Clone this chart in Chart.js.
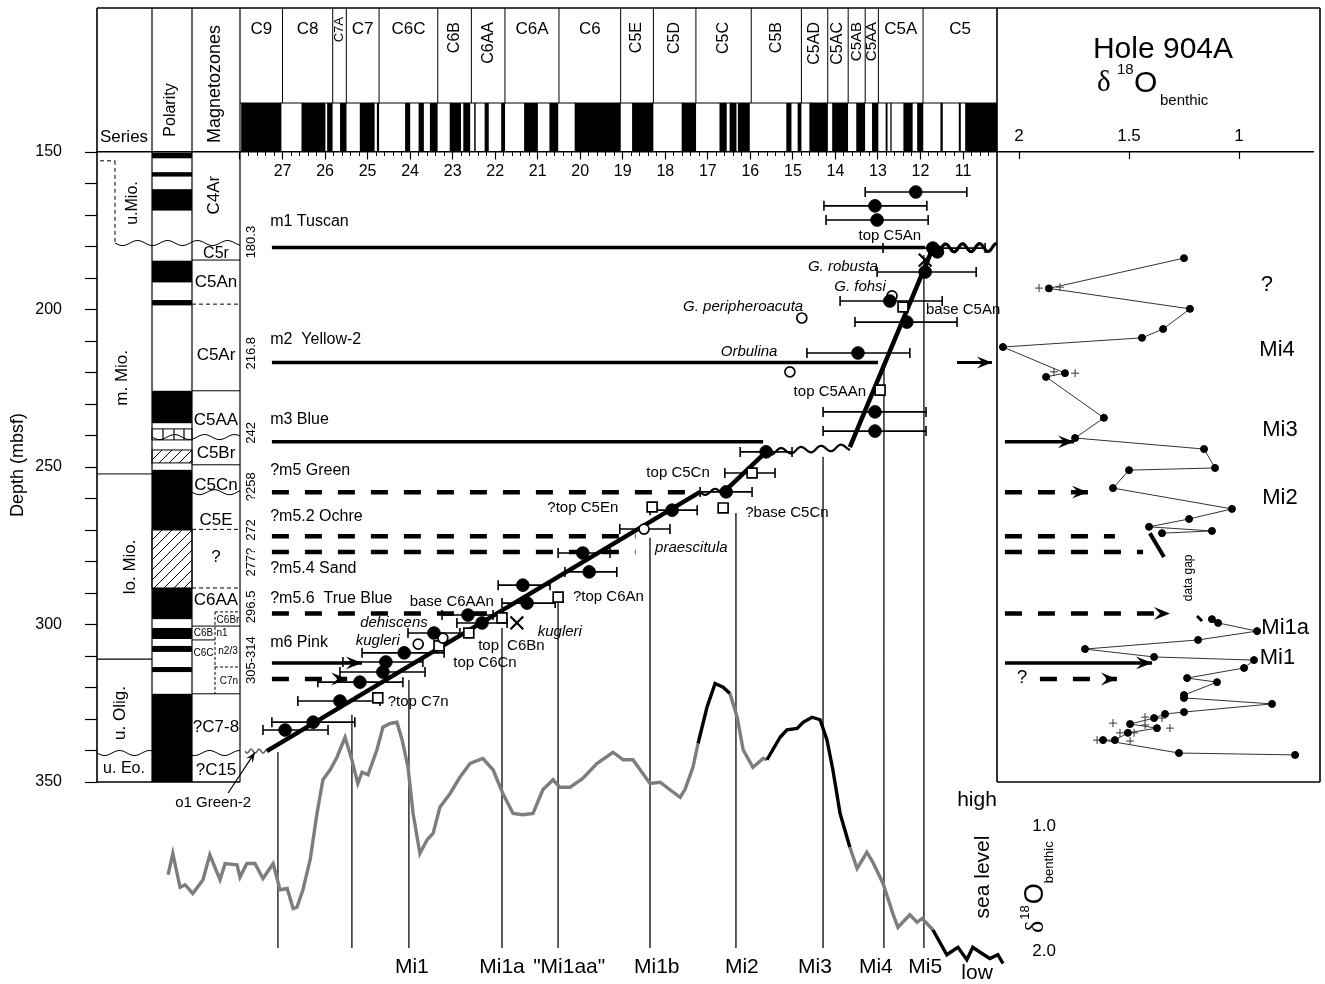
<!DOCTYPE html>
<html>
<head>
<meta charset="utf-8">
<title>Hole 904A age-depth</title>
<script src="https://cdn.jsdelivr.net/npm/chart.js@4.4.1/dist/chart.umd.min.js"></script>
<style>
html,body{margin:0;padding:0;background:#fff;}
#wrap{position:relative;width:1325px;height:984px;}
canvas{display:block;}
</style>
</head>
<body>
<div id="wrap"><canvas id="chart" width="1325" height="984"></canvas></div>
<script>
const FF = '"Liberation Sans", Arial, Helvetica, sans-serif';

// ======================= DATA =======================
// Axis tick values
const ageTicks   = [28,27,26,25,24,23,22,21,20,19,18,17,16,15,14,13,12,11];
const depthTicks = [150,160,170,180,190,200,210,220,230,240,250,260,270,280,290,300,310,320,330,340,350];
const panelTicks = [2,1.5,1];
const seaTicks   = [1,2];

// Geomagnetic polarity timescale (header): chron cells, ages in Ma
const chronNames = ['C9','C8','C7A','C7','C6C','C6B','C6AA','C6A','C6','C5E','C5D','C5C','C5B','C5AD','C5AC','C5AB','C5AA','C5A','C5'];
const chronOld   = [28.00,27.00,25.82,25.50,24.73,23.35,22.56,21.77,20.50,19.05,18.28,17.28,15.98,14.80,14.18,13.70,13.30,12.99,11.94];
const chronYoung = [27.00,25.82,25.50,24.73,23.35,22.56,21.77,20.50,19.05,18.28,17.28,15.98,14.80,14.18,13.70,13.30,12.99,11.94,10.20];
// normal-polarity intervals of the timescale (Ma)
const gptsOld   = [27.972,26.554,25.951,25.648,25.183,24.781,24.118,23.800,23.535,23.069,22.750,22.493,22.248,21.859,21.320,20.725,20.131,18.781,17.615,16.726,16.488,16.293,15.155,14.888,14.612,14.076,13.510,13.139,12.819,12.708,12.401,12.078,11.531,11.099,10.949];
const gptsYoung = [27.027,25.992,25.823,25.496,24.835,24.730,23.999,23.677,23.353,22.804,22.588,22.459,22.151,21.768,20.996,20.518,19.048,18.281,17.277,16.556,16.327,16.014,15.034,14.800,14.178,13.703,13.302,12.991,12.775,12.678,12.184,11.935,11.476,11.052,10.200];

// Hole polarity log: black (normal) intervals, depth mbsf
const polTop = [150.2,156.4,161.8,184.5,197.0,225.8,250.9,288.4,301.1,306.8,313.5,322.0];
const polBot = [152.0,157.8,168.6,191.4,198.7,236.1,270.0,298.3,304.6,308.7,315.1,350.0];

// Age control points (age Ma, depth mbsf, age uncertainty old/young)
const dotAge      = [12.11,13.07,13.02,11.71,11.60,11.89,12.72,12.32,13.47,13.07,13.07,15.63,16.57,17.84,19.94,19.79,21.35,21.25,22.64,22.31,23.44,24.14,24.57,24.64,25.18,25.65,26.28,26.94];
const dotDepth    = [162.7,167.1,171.6,180.5,181.7,188.1,197.3,204.0,213.8,232.5,238.6,245.2,257.9,263.7,277.3,283.3,287.5,293.2,297.0,299.5,302.7,309.0,311.9,315.1,318.3,324.3,331.0,333.5];
const dotErrOld   = [13.30,14.27,14.22,12.88,null,13.02,13.89,13.54,14.67,14.29,14.29,16.24,17.18,18.36,20.52,20.36,21.93,21.84,23.25,22.90,24.05,25.13,25.58,25.65,26.17,26.64,27.25,27.46];
const dotErrYoung = [10.91,11.85,11.82,10.48,null,10.69,11.49,11.14,12.25,11.87,11.87,15.02,15.96,17.25,19.30,19.14,20.71,20.59,22.05,21.72,22.83,23.20,23.70,23.65,24.17,24.71,25.30,25.93];

const openAge      = [12.67,14.79,15.07,18.50,23.81,23.23];
const openDepth    = [195.7,202.7,219.8,269.7,306.2,304.3];
const openErrOld   = [null,null,null,19.07,null,null];
const openErrYoung = [null,null,null,17.89,null,null];

const sqAge      = [12.41,12.95,15.96,16.64,18.31,20.52,21.84,22.62,23.32,24.76];
const sqDepth    = [199.2,225.6,251.9,263.0,262.7,291.3,297.9,302.7,306.8,323.3];
const sqErrOld   = [null,null,16.60,null,null,null,null,null,null,null];
const sqErrYoung = [null,null,15.42,null,null,null,null,null,null,null];

const xAge   = [11.89,21.49];
const xDepth = [184.3,299.5];

// Age model (line / unconformity segments)
const modelAge   = [27.37,17.18,16.62,15.63,13.66,11.71,10.20];
const modelDepth = [340.2,257.9,257.9,245.2,243.7,180.5,180.3];
const modelSeg   = ['line','wavy','line','wavy','line','wavy'];

// Sequence boundaries
const seqName   = ['m1 Tuscan','m2  Yellow-2','m3 Blue','?m5 Green','?m5.2 Ochre','?m5.4 Sand','?m5.6  True Blue','m6 Pink'];
const seqDepth  = [180.3,216.8,242,258,272,277,296.5,312.2];
const seqAgeEnd = [11.89,13.00,15.70,17.18,18.70,18.70,22.05,25.13];
const seqDashed = [false,false,false,true,true,true,true,false];
const seqDepthText = ['180.3','216.8','242','?258','272','277?','296.5','305-314'];

// Hole 904A benthic d18O (per mil) vs depth
const isoDepth = [183.7,193.3,199.8,206.2,209.0,211.9,220.2,221.4,234.4,240.8,244.3,250.3,251.0,256.7,263.3,266.5,269.0,270.3,271.0,null,298.3,299.5,302.1,304.9,307.8,310.3,311.3,313.8,317.0,318.3,322.4,323.3,325.2,327.8,328.4,329.7,331.6,332.9,334.4,336.7,336.7,340.8,341.4];
const isoValue = [1.25,1.864,1.223,1.345,1.441,2.073,1.791,1.877,1.614,1.745,1.159,1.109,1.5,1.573,1.032,1.227,1.409,1.123,1.35,null,1.123,1.095,0.918,1.186,1.7,1.386,0.932,0.977,1.236,1.1,1.25,1.25,0.85,1.25,1.336,1.386,1.495,1.373,1.505,1.564,1.618,1.273,0.745];
const plusDepth = [193.2,192.9,219.8,220.2,329.4,329.7,331.3,331.9,332.9,334.4,334.4,336.7,337.0];
const plusValue = [1.909,1.814,1.841,1.745,1.427,1.35,1.573,1.427,1.314,1.541,1.477,1.645,1.495];

// Sea level proxy: composite benthic d18O vs age
const seaAge = [29.69,29.58,29.41,29.29,29.11,28.87,28.71,28.47,28.35,28.07,28.00,27.84,27.65,27.46,27.22,27.06,26.89,26.75,26.66,26.52,26.35,26.19,26.05,25.88,25.72,25.53,25.37,25.23,25.13,24.99,24.78,24.64,24.47,24.31,24.19,24.05,23.93,23.77,23.60,23.46,23.30,23.06,22.83,22.59,22.29,22.05,21.82,21.58,21.35,21.11,20.88,20.64,20.48,20.24,19.94,19.61,19.23,18.99,18.76,18.36,18.12,17.89,17.65,17.54,17.35,17.23,17.02,16.83,16.64,16.48,16.31,16.17,15.94,15.70,15.61,15.30,15.14,14.90,14.76,14.55,14.36,14.20,14.06,13.89,13.66,13.49,13.26,13.12,12.88,12.65,12.53,12.25,12.08,11.96,11.71,11.38,11.12,10.91,10.77,10.60,10.37,10.18,10.06];
const seaD18 = [1.39,1.22,1.49,1.47,1.54,1.43,1.23,1.43,1.30,1.31,1.41,1.30,1.30,1.42,1.30,1.51,1.50,1.66,1.65,1.51,1.27,0.90,0.63,0.55,0.45,0.29,0.47,0.66,0.57,0.59,0.39,0.21,0.18,0.17,0.31,0.53,0.90,1.22,1.11,1.06,0.85,0.74,0.61,0.50,0.46,0.55,0.74,0.90,0.91,0.90,0.71,0.63,0.69,0.69,0.62,0.50,0.41,0.47,0.47,0.66,0.65,0.71,0.77,0.71,0.53,0.34,0.05,-0.14,-0.11,-0.06,0.13,0.39,0.53,0.46,0.47,0.29,0.23,0.22,0.17,0.13,0.15,0.31,0.55,0.90,1.17,1.34,1.21,1.29,1.46,1.70,1.81,1.71,1.77,1.74,1.83,2.03,1.97,2.07,1.97,2.01,2.06,2.03,2.10];
const seaBlackOld   = [17.25,15.61,11.80];
const seaBlackYoung = [16.48,13.60,10.00];

// Mi events
const miLineAge = [27.11,25.37,24.03,21.84,20.52,18.36,16.34,14.29,12.86,11.92];
const miLineTop = [340.5,328.7,317.6,301.1,293.2,272.5,264.6,246.8,217.6,182.7];
const miLineBottom = 402.7;
const miName = ['Mi1','Mi1a','"Mi1aa"','Mi1b','Mi2','Mi3','Mi4','Mi5'];
const miLabelAge = [23.96,21.84,20.26,18.20,16.20,14.48,13.05,11.89];

// Sequence boundaries carried into the isotope panel
const panelDepth  = [242,258,272,277,296.5,312.2,317.3];
const panelFrom   = [2.064,2.064,2.064,2.064,2.064,2.064,1.905];
const panelTo     = [1.75,1.686,1.564,1.436,1.314,1.395,1.555];
const panelDashed = [false,true,true,true,true,false,true];
const panelArrow  = [true,true,false,false,true,true,true];

// ======================= HELPERS =======================
const zeroPad = s => {
  s.paddingLeft = 0; s.paddingRight = 0; s.paddingTop = 0; s.paddingBottom = 0;
  s.getPadding = () => ({left: 0, top: 0, right: 0, bottom: 0});
};
const setTicks = vals => s => { s.ticks = vals.map(v => ({value: v})); };
const pts = (xs, ys) => xs.map((x, i) => ({x: x, y: ys[i]}));
function bars(depths, olds, youngs) {
  const out = [];
  depths.forEach((d, i) => {
    if (olds[i] == null) return;
    out.push({x: olds[i], y: d}, {x: youngs[i], y: d}, {x: null, y: null});
  });
  return out;
}
function seg(c, x1, y1, x2, y2, w, dash, color) {
  c.save(); c.strokeStyle = color || '#000'; c.lineWidth = w || 1; c.setLineDash(dash || []);
  c.beginPath(); c.moveTo(x1, y1); c.lineTo(x2, y2); c.stroke(); c.restore();
}
function txt(c, s, x, y, size, o) {
  o = o || {};
  c.save();
  c.font = (o.italic ? 'italic ' : '') + size + 'px ' + (o.family || FF);
  c.fillStyle = o.color || '#000';
  c.textAlign = o.align || 'center';
  c.textBaseline = o.baseline || 'middle';
  c.translate(x, y);
  if (o.rot) c.rotate(-Math.PI / 2);
  c.fillText(s, 0, 0);
  c.restore();
}
function wavy(c, x1, y1, x2, y2, amp, wl, lw, color) {
  const len = Math.hypot(x2 - x1, y2 - y1); if (len < 1) return;
  const ux = (x2 - x1) / len, uy = (y2 - y1) / len, n = Math.round(len);
  c.save(); c.strokeStyle = color || '#000'; c.lineWidth = lw; c.lineJoin = 'round';
  c.beginPath();
  for (let i = 0; i <= n; i++) {
    const t = i / n * len, o = amp * Math.sin(2 * Math.PI * t / wl);
    const px = x1 + ux * t - uy * o, py = y1 + uy * t + ux * o;
    if (i) c.lineTo(px, py); else c.moveTo(px, py);
  }
  c.stroke(); c.restore();
}
function head(c, x1, y1, x2, y2, len, color) {
  const a = Math.atan2(y2 - y1, x2 - x1);
  c.save(); c.translate(x2, y2); c.rotate(a); c.fillStyle = color || '#000';
  c.beginPath(); c.moveTo(0, 0); c.lineTo(-len, -len * 0.4); c.lineTo(-len * 0.62, 0); c.lineTo(-len, len * 0.4); c.closePath(); c.fill();
  c.restore();
}
function hatch(c, x1, y1, x2, y2, sp) {
  c.save(); c.beginPath(); c.rect(x1, y1, x2 - x1, y2 - y1); c.clip();
  c.strokeStyle = '#000'; c.lineWidth = 1; c.beginPath();
  const h = y2 - y1;
  for (let k = -h; k < (x2 - x1) + h; k += sp) { c.moveTo(x1 + k, y2); c.lineTo(x1 + k + h, y1); }
  c.stroke(); c.restore();
  c.save(); c.strokeStyle = '#000'; c.lineWidth = 1; c.strokeRect(x1, y1, x2 - x1, y2 - y1); c.restore();
}

// ======================= FIGURE DECORATION =======================
const chronRot  = [false,false,true,false,false,true,true,false,false,true,true,true,true,true,true,true,true,false,false];
const chronSize = [17,17,13,17,17,16,16,17,17,16,16,16,16,16,16,15,15,17,17];

const notes = [
  ['top C5An', 12.72, 176.7, false, 'center'],
  ['G. robusta', 13.00, 186.5, true, 'right'],
  ['G. fohsi', 13.42, 192.9, true, 'center'],
  ['G. peripheroacuta', 16.17, 199.2, true, 'center'],
  ['base C5An', 11.87, 200.2, false, 'left'],
  ['Orbulina', 16.03, 213.5, true, 'center'],
  ['top C5AAn', 14.13, 226.2, false, 'center'],
  ['top C5Cn', 17.70, 251.9, false, 'center'],
  ['?base C5Cn', 15.14, 264.6, false, 'center'],
  ['?top C5En', 19.94, 263.0, false, 'center'],
  ['praescitula', 18.24, 275.7, true, 'left'],
  ['?top C6An', 20.17, 291.3, false, 'left'],
  ['base C6AAn', 23.02, 292.9, false, 'center'],
  ['dehiscens', 24.38, 299.5, true, 'center'],
  ['kugleri', 20.48, 302.4, true, 'center'],
  ['top', 21.91, 306.8, false, 'right'],
  ['C6Bn', 21.72, 306.8, false, 'left'],
  ['kugleri', 24.76, 305.2, true, 'center'],
  ['top C6Cn', 22.24, 312.2, false, 'center'],
  ['?top C7n', 23.81, 324.6, false, 'center'],
  ['o1 Green-2', 28.63, 356.7, false, 'center']
];
const seqLabelDepth = [172.2,209.4,234.8,251.0,265.9,282.1,291.9,305.9];
const seqLabelPos = [178.6,213.9,239.2,256.3,270.0,280.2,294.4,311.3];

const magLabels = [
  ['C4Ar',214,163.7,17,true],['C5r',216,182.1,16,false],['C5An',216,191.3,17,false],['C5Ar',216,214.4,17,false],
  ['C5AA',216,235.1,17,false],['C5Br',216,245.6,17,false],['C5Cn',216,255.7,17,false],['C5E',216,266.8,17,false],
  ['?',216,278.6,17,false],['C6AA',216,292.2,17,false],['C6Br',228,298.6,10,false],['C6B',203.5,302.9,10,false],
  ['n1',222,302.7,10,false],['C6C',203.5,309.0,10,false],['n2/3',228,308.4,10,false],['C7n',229,318.0,10,false],
  ['?C7-8',216,332.5,17,false],['?C15',216,346.2,17,false]
];
const seriesLabels = [['u.Mio.',133,166.2,16,true],['m. Mio.',122,221.7,17,true],['lo. Mio.',130,281.7,17,true],['u. Olig.',120,328.1,17,true],['u. Eo.',124,345.6,16,false]];

const figurePlugin = {
  id: 'figure',
  beforeDatasetsDraw(ch) {
    const c = ch.ctx, sx = ch.scales.x, sy = ch.scales.y;
    const X = v => sx.getPixelForValue(v), Y = v => sy.getPixelForValue(v);
    const yAx = Y(150), yB = Y(350);
    c.save(); c.fillStyle = '#000';
    for (let i = 0; i < gptsOld.length; i++) { const a = X(gptsOld[i]), b = X(gptsYoung[i]); c.fillRect(a, 103, b - a, yAx - 103); }
    for (let i = 0; i < polTop.length; i++) c.fillRect(152, Y(polTop[i]), 40, Y(polBot[i]) - Y(polTop[i]));
    c.restore();
    hatch(c, 152, Y(270.0), 192, Y(288.4), 10);
    hatch(c, 152, Y(244.6), 192, Y(248.7), 10);
    c.save(); c.strokeStyle = '#000'; c.lineWidth = 1; c.strokeRect(152, Y(237.9), 40, Y(241.4) - Y(237.9));
    [163, 174, 184].forEach(xx => seg(c, xx, Y(237.9), xx, Y(241.4), 1.2)); c.restore();

    for (let i = 1; i < chronOld.length; i++) seg(c, X(chronOld[i]), 8, X(chronOld[i]), 103, 1);
    seg(c, 240, 103, 997, 103, 1.2);
    chronNames.forEach((n, i) => {
      const cx = (X(chronOld[i]) + X(chronYoung[i])) / 2;
      if (chronRot[i]) txt(c, n, cx, n === 'C7A' ? 17 : 22, chronSize[i], {rot: true, align: 'right'});
      else txt(c, n, cx, 29, chronSize[i]);
    });
    txt(c, 'Series', 124, 137, 17);
    txt(c, 'Polarity', 171, 110, 16, {rot: true});
    txt(c, 'Magnetozones', 215, 84, 18, {rot: true});

    seg(c, 97, 8, 1320, 8, 1.6);
    seg(c, 97, 8, 97, yB, 1.6);
    [152, 192, 240].forEach(xx => seg(c, xx, 8, xx, yB, 1.2));
    seg(c, 997, 8, 997, yB, 1.6);
    seg(c, 1320, 8, 1320, yB, 1.6);
    seg(c, 97, yB, 240, yB, 1.6);
    seg(c, 997, yB, 1320, yB, 1.6);

    seg(c, 100, Y(152.8), 115, Y(152.8), 1, [4, 3]);
    seg(c, 115, Y(152.8), 115, Y(178.9), 1, [4, 3]);
    wavy(c, 115, Y(178.9), 240, Y(178.9), 2.5, 30, 1);
    seg(c, 97, Y(252.2), 152, Y(252.2), 1);
    seg(c, 97, Y(311), 152, Y(311), 1.2);
    wavy(c, 97, Y(340.8), 240, Y(340.8), 2.5, 30, 1);
    seg(c, 192, Y(184.3), 240, Y(184.3), 1);
    seg(c, 192, Y(198.3), 240, Y(198.3), 1, [4, 3]);
    seg(c, 192, Y(225.8), 240, Y(225.8), 1);
    wavy(c, 152, Y(240.5), 240, Y(240.5), 2.5, 30, 1);
    seg(c, 192, Y(249.3), 240, Y(249.3), 1);
    wavy(c, 192, Y(258), 240, Y(258), 2.5, 30, 1);
    seg(c, 192, Y(269.8), 240, Y(269.8), 1, [4, 3]);
    seg(c, 192, Y(288.4), 240, Y(288.4), 1, [4, 3]);
    seg(c, 215, Y(296), 240, Y(296), 1, [3, 2]);
    seg(c, 215, Y(296), 215, Y(322), 1, [3, 2]);
    seg(c, 192, Y(300.5), 240, Y(300.5), 1);
    seg(c, 192, Y(304.9), 215, Y(304.9), 1);
    seg(c, 215, Y(313.5), 240, Y(313.5), 1, [3, 2]);
    seg(c, 192, Y(322), 240, Y(322), 1);

    for (let i = 0; i < modelSeg.length; i++) {
      if (modelSeg[i] !== 'wavy') continue;
      const last = i === modelSeg.length - 1;
      wavy(c, X(modelAge[i]), Y(modelDepth[i]), X(modelAge[i + 1]), Y(modelDepth[i + 1]), last ? 4 : 3, last ? 17 : 20, last ? 3.2 : 2.2);
    }
    wavy(c, X(27.88), Y(340.2), X(27.37), Y(340.2), 2, 8, 1.6, '#666');
  },
  afterDatasetsDraw(ch) {
    const c = ch.ctx, sx = ch.scales.x, sy = ch.scales.y, sr = ch.scales.xr, sb = ch.scales.yb;
    const X = v => sx.getPixelForValue(v), Y = v => sy.getPixelForValue(v), XR = v => sr.getPixelForValue(v), YB = v => sb.getPixelForValue(v);
    ch.data.datasets.forEach((ds, i) => {
      if (!ds.arrowHead) return;
      const p = ch.getDatasetMeta(i).data; const a = p[p.length - 2], b = p[p.length - 1];
      head(c, a.x, a.y, b.x, b.y, ds.arrowHead, '#000');
    });
    seqName.forEach((n, i) => txt(c, n, X(27.29), Y(seqLabelDepth[i]), 16, {align: 'left'}));
    seqDepthText.forEach((n, i) => txt(c, n, 251, Y(seqLabelPos[i]), 13, {rot: true}));
    notes.forEach(n => txt(c, n[0], X(n[1]), Y(n[2]), 15, {italic: n[3], align: n[4]}));
    magLabels.forEach(m => txt(c, m[0], m[1], Y(m[2]), m[3], {rot: m[4]}));
    seriesLabels.forEach(m => txt(c, m[0], m[1], Y(m[2]), m[3], {rot: m[4]}));
    txt(c, 'Depth (mbsf)', 18, 465, 18, {rot: true});
    miName.forEach((n, i) => txt(c, n, X(miLabelAge[i]), YB(2.128), 21));
    txt(c, 'high', X(10.67), YB(0.792), 21);
    txt(c, 'low', X(10.67), YB(2.176), 21);
    txt(c, 'sea level', X(10.53), YB(1.408), 21, {rot: true});
    c.save(); c.translate(1036, 933); c.rotate(-Math.PI / 2); c.fillStyle = '#000'; c.textBaseline = 'middle'; c.textAlign = 'left';
    c.font = '26px "Liberation Serif", "DejaVu Serif", serif'; c.fillText('δ', 0, 0); let w = c.measureText('δ').width;
    c.font = '13px ' + FF; c.fillText('18', w + 1, -11); w += c.measureText('18').width + 2;
    c.font = '27px ' + FF; c.fillText('O', w, 0); w += c.measureText('O').width;
    c.font = '13px ' + FF; c.fillText('benthic', w, 13);
    c.restore();
    txt(c, 'Hole 904A', 1163, 50, 30);
    c.save(); c.fillStyle = '#000'; c.textBaseline = 'middle'; c.textAlign = 'left';
    c.font = '29px "Liberation Serif", "DejaVu Serif", serif'; c.fillText('δ', 1097, 83);
    c.font = '15px ' + FF; c.fillText('18', 1117, 70);
    c.font = '30px ' + FF; c.fillText('O', 1134, 84);
    c.font = '15px ' + FF; c.fillText('benthic', 1160, 101);
    c.restore();
    [['?', 0.873, 192.2], ['Mi4', 0.827, 212.9], ['Mi3', 0.814, 238.3], ['Mi2', 0.814, 259.8], ['Mi1a', 0.790, 301.1], ['Mi1', 0.825, 310.6]]
      .forEach(m => txt(c, m[0], XR(m[1]), Y(m[2]), 22));
    txt(c, '?', XR(1.986), Y(317.0), 19);
    txt(c, 'data gap', XR(1.227), Y(285.2), 12, {rot: true});
  }
};

// ======================= DATASETS =======================
const errData = bars(dotDepth, dotErrOld, dotErrYoung)
  .concat(bars(openDepth, openErrOld, openErrYoung))
  .concat(bars(sqDepth, sqErrOld, sqErrYoung));

const miData = [];
miLineAge.forEach((a, i) => { miData.push({x: a, y: miLineTop[i]}, {x: a, y: miLineBottom}, {x: null, y: null}); });

const isBlack = a => seaBlackOld.some((o, i) => a <= o && a >= seaBlackYoung[i]);

const datasets = [
  {label: 'filled', data: pts(dotAge, dotDepth), showLine: false, pointStyle: 'circle', pointRadius: 6.3, pointBackgroundColor: '#000', pointBorderColor: '#000', order: 1},
  {label: 'open', data: pts(openAge, openDepth), showLine: false, pointStyle: 'circle', pointRadius: 5, pointBackgroundColor: '#fff', pointBorderColor: '#000', pointBorderWidth: 1.7, order: 1},
  {label: 'squares', data: pts(sqAge, sqDepth), showLine: false, pointStyle: 'rect', pointRadius: 7, pointBackgroundColor: '#fff', pointBorderColor: '#000', pointBorderWidth: 1.7, order: 1},
  {label: 'crosses', data: pts(xAge, xDepth), showLine: false, pointStyle: 'crossRot', pointRadius: 9, pointBorderColor: '#000', pointBorderWidth: 2.2, order: 1},
  {label: 'errors', data: errData, borderColor: '#000', borderWidth: 1.6, pointStyle: 'line', pointRotation: 90, pointRadius: 5, pointBorderWidth: 1.6, pointBorderColor: '#000', spanGaps: false, order: 3},
  {label: 'age model', data: pts(modelAge, modelDepth), borderColor: '#000', borderWidth: 4.5, pointRadius: 0, order: 4,
   segment: {borderColor: ctx => modelSeg[ctx.p0DataIndex] === 'wavy' ? 'rgba(0,0,0,0)' : '#000'}},
  {label: 'd18O 904A', xAxisID: 'xr', data: pts(isoValue, isoDepth), borderColor: '#333', borderWidth: 1, pointRadius: 3.5, pointBackgroundColor: '#000', pointBorderColor: '#000', spanGaps: false, order: 2},
  {label: 'd18O plus', xAxisID: 'xr', data: pts(plusValue, plusDepth), showLine: false, pointStyle: 'cross', pointRadius: 4, pointBorderWidth: 1, pointBorderColor: '#333', order: 2},
  {label: 'sea level', yAxisID: 'yb', data: pts(seaAge, seaD18), borderWidth: 3.4, borderColor: '#7d7d7d', pointRadius: 0, order: 8,
   segment: {borderColor: ctx => isBlack((ctx.p0.parsed.x + ctx.p1.parsed.x) / 2) ? '#000' : '#7d7d7d'}},
  {label: 'Mi lines', data: miData, borderColor: '#444', borderWidth: 1, pointRadius: 0, spanGaps: false, order: 9}
];
seqDepth.forEach((d, i) => {
  datasets.push({label: seqName[i], data: [{x: 27.25, y: d}, {x: seqAgeEnd[i], y: d}], borderColor: '#000',
    borderWidth: seqDashed[i] ? 4.5 : 3.5, borderDash: seqDashed[i] ? [17, 16] : [], pointRadius: 0, order: 5,
    arrowHead: i === 7 ? 16 : 0});
});
datasets.push({label: 'm6 lower', data: [{x: 27.25, y: 317.3}, {x: 25.48, y: 317.3}], borderColor: '#000', borderWidth: 4.5, borderDash: [17, 16], pointRadius: 0, order: 5, arrowHead: 16});
datasets.push({label: 'm2 arrow', data: [{x: 11.14, y: 216.8}, {x: 10.32, y: 216.8}], borderColor: '#000', borderWidth: 3, pointRadius: 0, order: 5, arrowHead: 15});
datasets.push({label: 'o1 leader', data: [{x: 28.28, y: 353.5}, {x: 27.65, y: 340.6}], borderColor: '#000', borderWidth: 1.2, pointRadius: 0, order: 5, arrowHead: 10});
panelDepth.forEach((d, i) => {
  datasets.push({label: 'panel ' + d, xAxisID: 'xr', data: [{x: panelFrom[i], y: d}, {x: panelTo[i], y: d}], borderColor: '#000',
    borderWidth: panelDashed[i] ? 4.5 : 3.5, borderDash: panelDashed[i] ? [17, 16] : [], pointRadius: 0, order: 5, arrowHead: panelArrow[i] ? 16 : 0});
});
datasets.push({label: 'gap mark', xAxisID: 'xr', data: [{x: 1.405, y: 271.0}, {x: 1.341, y: 278.6}], borderColor: '#000', borderWidth: 4, pointRadius: 0, order: 5});
datasets.push({label: 'gap mark 2', xAxisID: 'xr', data: [{x: 1.191, y: 297.3}, {x: 1.168, y: 298.9}], borderColor: '#000', borderWidth: 3, pointRadius: 0, order: 5});

// ======================= CHART =======================
Chart.defaults.font.family = FF;
const chart = new Chart(document.getElementById('chart'), {
  type: 'line',
  data: {datasets: datasets},
  plugins: [figurePlugin],
  options: {
    responsive: false, animation: false, events: [], devicePixelRatio: 1,
    layout: {padding: {left: 0, top: 8, right: 5, bottom: 0}},
    elements: {line: {tension: 0}},
    plugins: {legend: {display: false}, tooltip: {enabled: false}},
    scales: {
      x: {type: 'linear', axis: 'x', position: {y: 150}, min: 2.6063, max: 31.3623, reverse: true,
          grid: {drawOnChartArea: false, tickLength: 7, tickColor: '#000', tickWidth: 1.2},
          border: {display: true, color: '#000', width: 1.5},
          ticks: {stepSize: 1, autoSkip: false, maxRotation: 0, padding: 3.4, color: '#000', font: {size: 16},
                  callback: v => (Math.abs(v - 28) < 0.01 ? '' : String(Math.round(v)))},
          afterBuildTicks: setTicks(ageTicks),
          afterFit: zeroPad},
      xm: {type: 'linear', axis: 'x', position: {y: 150}, min: 2.6063, max: 31.3623, reverse: true,
          grid: {drawOnChartArea: false, tickLength: 4, tickColor: '#000', tickWidth: 1},
          border: {display: false},
          ticks: {stepSize: 0.2, autoSkip: false, display: false},
          afterBuildTicks: s => { s.ticks = s.ticks.filter(t => t.value >= 10.3 && t.value <= 28.01); },
          afterFit: zeroPad},
      xr: {type: 'linear', axis: 'x', position: {y: 150}, min: 0.6318, max: 6.1909, reverse: true,
          grid: {drawOnChartArea: false, tickLength: 7, tickColor: '#000', tickWidth: 1.2},
          border: {display: false},
          ticks: {stepSize: 0.5, autoSkip: false, maxRotation: 0, padding: -33.2, color: '#000', font: {size: 17},
                  callback: v => String(Math.round(v * 10) / 10)},
          afterBuildTicks: setTicks(panelTicks),
          afterFit: zeroPad},
      y: {type: 'linear', axis: 'y', position: 'left', min: 104.286, max: 414.127, reverse: true,
          grid: {drawOnChartArea: false, tickLength: 12, tickColor: '#000', tickWidth: 1.2},
          border: {display: false},
          ticks: {stepSize: 10, autoSkip: false, padding: 23, color: '#000', font: {size: 16},
                  callback: v => (Math.round(v) % 50 === 0 ? String(Math.round(v)) : '')},
          afterBuildTicks: setTicks(depthTicks),
          afterFit: s => { zeroPad(s); s.width = 97; }},
      yb: {type: 'linear', axis: 'y', position: {x: 8.814}, min: -5.544, max: 2.264, reverse: true,
          grid: {display: false}, border: {display: false},
          ticks: {stepSize: 1, autoSkip: false, color: '#000', font: {size: 17}, callback: v => v.toFixed(1)},
          afterBuildTicks: setTicks(seaTicks),
          afterFit: zeroPad}
    }
  }
});

// Calibrate each scale so that the axes line up with the figure frame (pixel anchors of the original layout)
const anchors = {
  x:  {v0: 28, p0: 240, k: -1 / 42.53},
  xm: {v0: 28, p0: 240, k: -1 / 42.53},
  xr: {v0: 2, p0: 1019, k: -1 / 220},
  y:  {v0: 150, p0: 152, k: 1 / 3.15},
  yb: {v0: 1, p0: 826, k: 1 / 125}
};
for (let pass = 0; pass < 2; pass++) {
  Object.keys(anchors).forEach(id => {
    const s = chart.scales[id], a = anchors[id];
    const pMin = s.getPixelForValue(s.min), pMax = s.getPixelForValue(s.max);
    const f = p => a.v0 + (p - a.p0) * a.k;
    chart.options.scales[id].min = Math.min(f(pMin), f(pMax));
    chart.options.scales[id].max = Math.max(f(pMin), f(pMax));
  });
  chart.options.scales.yb.position = {x: chart.scales.x.getValueForPixel(1056)};
  chart.update('none');
}
</script>
</body>
</html>
